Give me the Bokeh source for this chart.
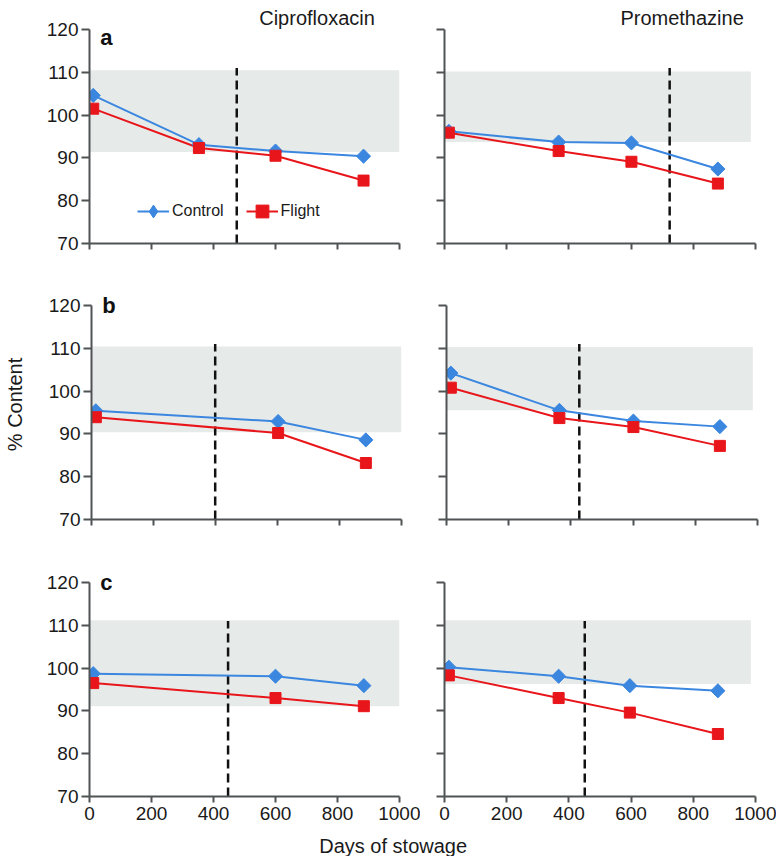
import math
from bokeh.plotting import figure
from bokeh.models import Range1d, Label, Legend, LegendItem, FixedTicker
from bokeh.layouts import column, row
from bokeh.embed import file_html
from bokeh.resources import INLINE

# ---------------- data ----------------
drugs = ["Ciprofloxacin", "Promethazine"]
panel_letters = ["a", "b", "c"]
x_ticks = [0, 200, 400, 600, 800, 1000]
y_ticks = [70, 80, 90, 100, 110, 120]

# row a
days_a_cipro = [12, 353, 600, 884]
control_a_cipro = [104.6, 93.1, 91.6, 90.4]
flight_a_cipro = [101.5, 92.3, 90.5, 84.7]
band_a_cipro = [91.4, 110.5]
expiry_a_cipro = 475

days_a_prom = [14, 367, 601, 879]
control_a_prom = [96.2, 93.7, 93.5, 87.4]
flight_a_prom = [95.9, 91.6, 89.1, 84.0]
band_a_prom = [93.7, 110.2]
expiry_a_prom = 724

# row b
days_b_cipro = [14, 602, 885]
control_b_cipro = [95.4, 92.9, 88.6]
flight_b_cipro = [93.9, 90.2, 83.2]
band_b_cipro = [90.4, 110.4]
expiry_b_cipro = 399

days_b_prom = [14, 363, 601, 879]
control_b_prom = [104.2, 95.5, 93.0, 91.7]
flight_b_prom = [100.8, 93.7, 91.6, 87.2]
band_b_prom = [95.5, 110.3]
expiry_b_prom = 427

# row c
days_c_cipro = [12, 600, 885]
control_c_cipro = [98.7, 98.1, 95.9]
flight_c_cipro = [96.5, 93.0, 91.1]
band_c_cipro = [91.1, 111.2]
expiry_c_cipro = 447

days_c_prom = [14, 367, 596, 879]
control_c_prom = [100.2, 98.1, 95.9, 94.7]
flight_c_prom = [98.3, 93.0, 89.6, 84.6]
band_c_prom = [96.3, 111.2]
expiry_c_prom = 451

band_end = [1000, 985]      # right edge of shaded band (days), per column
expiry_top = 111            # top of dashed expiry line (% content)

# ---------------- style / layout ----------------
FONT = "Liberation Sans"
AX = "#4f5354"
TXT = "#1a1a1a"
BLUE = "#3b87e0"
RED = "#e8161b"
BAND = "#e6eae8"

panels = [
    [(days_a_cipro, control_a_cipro, flight_a_cipro, band_a_cipro, expiry_a_cipro),
     (days_a_prom, control_a_prom, flight_a_prom, band_a_prom, expiry_a_prom)],
    [(days_b_cipro, control_b_cipro, flight_b_cipro, band_b_cipro, expiry_b_cipro),
     (days_b_prom, control_b_prom, flight_b_prom, band_b_prom, expiry_b_prom)],
    [(days_c_cipro, control_c_cipro, flight_c_cipro, band_c_cipro, expiry_c_cipro),
     (days_c_prom, control_c_prom, flight_c_prom, band_c_prom, expiry_c_prom)],
]

AXIS_PX = 214                 # pixel height of the 70..120 axis
PX_PER_UNIT = AXIS_PX / 50.0
extra_px = [26, 16, 16]       # free space above 120 inside the frame (for letters/titles)
border_top = [3, 15, 16]
border_bottom = [31, 31, 34]
letter_y = [118.1, 120, 120]
frame_w = [310, 311]
border_l = [89, 24]
border_r = [21, 21]


def make_panel(r, c):
    days, ctrl, flt, band, expiry = panels[r][c]
    left = c == 0
    bottom = r == 2
    ytop = 120 + extra_px[r] / PX_PER_UNIT
    p = figure(frame_width=frame_w[c], frame_height=AXIS_PX + extra_px[r],
               x_range=Range1d(0, 1000), y_range=Range1d(70, ytop),
               output_backend="svg", toolbar_location=None,
               min_border_left=border_l[c], min_border_right=border_r[c],
               min_border_top=border_top[r], min_border_bottom=border_bottom[r])
    p.outline_line_color = None
    p.xgrid.visible = False
    p.ygrid.visible = False
    for ax in (p.xaxis[0], p.yaxis[0]):
        ax.axis_line_color = AX
        ax.axis_line_width = 2
        ax.major_tick_line_color = AX
        ax.major_tick_line_width = 2
        ax.major_tick_in = 0
        ax.minor_tick_line_color = None
        ax.major_label_text_font = FONT
        ax.major_label_text_font_size = "19px"
        ax.major_label_text_color = TXT
    p.xaxis.ticker = FixedTicker(ticks=x_ticks)
    p.yaxis.ticker = FixedTicker(ticks=y_ticks)
    p.yaxis.bounds = (70, 120)
    p.xaxis.major_tick_out = 6
    p.yaxis.major_tick_out = 8
    p.xaxis.major_label_standoff = 4
    p.yaxis.major_label_standoff = 3
    if not bottom:
        p.xaxis.major_label_overrides = {t: "" for t in x_ticks}
    if not left:
        p.yaxis.major_label_overrides = {t: "" for t in y_ticks}
    if left and r == 1:
        p.yaxis.axis_label = "% Content"
        p.yaxis.axis_label_text_font = FONT
        p.yaxis.axis_label_text_font_size = "20px"
        p.yaxis.axis_label_text_font_style = "normal"
        p.yaxis.axis_label_text_color = TXT
        p.yaxis.axis_label_standoff = 20

    p.quad(left=[0], right=[band_end[c]], bottom=[band[0]], top=[band[1]],
           fill_color=BAND, line_color=None)
    p.segment(x0=[expiry], y0=[70], x1=[expiry], y1=[expiry_top],
              line_color="#111111", line_width=2.5, line_dash="9 5")
    lc = p.line(days, ctrl, line_color=BLUE, line_width=2)
    lf = p.line(days, flt, line_color=RED, line_width=2)
    # diamond drawn inside the rotated square (used as legend glyph)
    dc = p.scatter(days, ctrl, marker="diamond", size=12,
                   fill_color=BLUE, line_color=BLUE)
    p.scatter(days, ctrl, marker="square", angle=math.pi / 4, size=10,
              fill_color=BLUE, line_color=BLUE)
    sf = p.scatter(days, flt, marker="square", size=11,
                   fill_color=RED, line_color=RED)

    if left:
        p.add_layout(Label(x=35, y=letter_y[r], text=panel_letters[r],
                           text_font=FONT, text_font_size="22px", text_font_style="bold",
                           text_color="#111111", text_baseline="alphabetic"))
    if r == 0:
        p.add_layout(Label(x=[734, 764][c], y=122.6, text=drugs[c],
                           text_font=FONT, text_font_size="20px",
                           text_color=TXT, text_align="center",
                           text_baseline="alphabetic"))
    if r == 0 and c == 0:
        legend = Legend(items=[LegendItem(label="Control", renderers=[lc, dc]),
                               LegendItem(label="Flight", renderers=[lf, sf])],
                        orientation="horizontal", location=(48, 12),
                        glyph_width=32, glyph_height=40, label_standoff=3,
                        spacing=22, padding=0, margin=0,
                        border_line_color=None, background_fill_alpha=0,
                        label_text_font=FONT, label_text_font_size="16px",
                        label_text_color=TXT)
        p.add_layout(legend)
    return p


rows = [row(make_panel(r, 0), make_panel(r, 1)) for r in range(3)]

xl = figure(width=776, height=26, x_range=Range1d(0, 1), y_range=Range1d(0, 1),
            output_backend="svg", toolbar_location=None, min_border=0,
            x_axis_type=None, y_axis_type=None)
xl.outline_line_color = None
xl.add_layout(Label(x=0.506, y=0.0, text="Days of stowage", text_font=FONT,
                    text_font_size="20px", text_color=TXT,
                    text_align="center", text_baseline="bottom"))

layout = column(*rows, xl)
open("out.html", "w").write(file_html(layout, INLINE))
